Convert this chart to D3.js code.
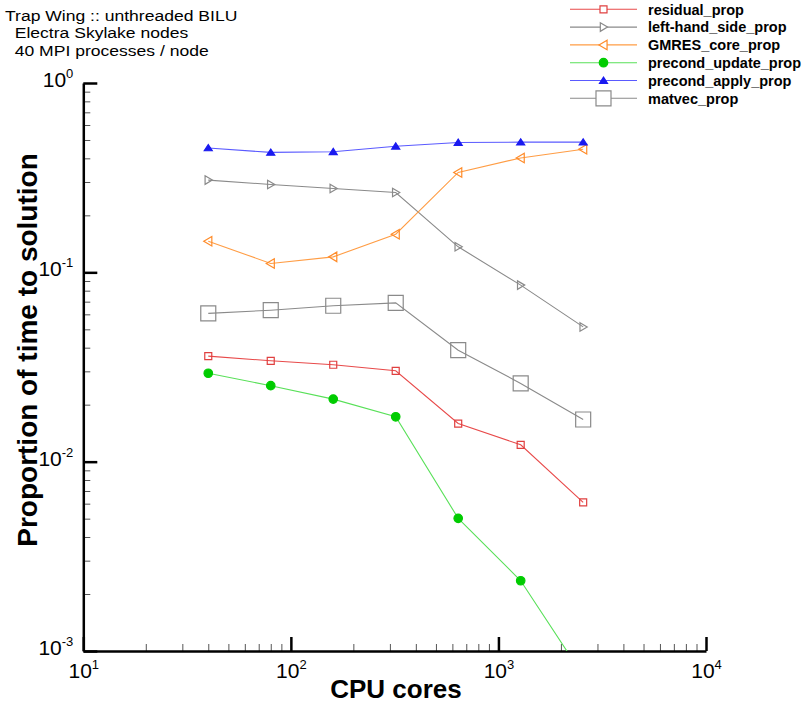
<!DOCTYPE html>
<html>
<head>
<meta charset="utf-8">
<script src="https://cdn.jsdelivr.net/npm/d3@7"></script>
<style>
  html, body { margin: 0; padding: 0; background: #fff; }
  svg { display: block; font-family: "Liberation Sans", Arial, Helvetica, sans-serif; }
</style>
</head>
<body>
<svg id="chart" width="806" height="704"></svg>
<script>
// Core counts on the x axis
const cores = [40, 80, 160, 320, 640, 1280, 2560];

// Fraction of total solve time per component
const residualProp      = [0.0361, 0.0341, 0.0325, 0.0302, 0.0159, 0.01228, 0.0061];
const lhsProp           = [0.307, 0.291, 0.277, 0.264, 0.1364, 0.0856, 0.0515];
const gmresCoreProp     = [0.146, 0.1114, 0.1207, 0.159, 0.337, 0.402, 0.447];
const precondUpdateProp = [0.0293, 0.0252, 0.0214, 0.01726, 0.00502, 0.00235, 0.00074];
const precondApplyProp  = [0.454, 0.43, 0.433, 0.463, 0.485, 0.487, 0.487];
const matvecProp        = [0.0607, 0.0631, 0.0666, 0.069, 0.0388, 0.0259, 0.0167];

const seriesNames = ["residual_prop", "left-hand_side_prop", "GMRES_core_prop",
                     "precond_update_prop", "precond_apply_prop", "matvec_prop"];

// Decade tick exponents
const xExponents = [1, 2, 3, 4];
const yExponents = [0, -1, -2, -3];

const titleLines = ["Trap Wing :: unthreaded BILU", "  Electra Skylake nodes", "  40 MPI processes / node"];
const xTitle = "CPU cores";
const yTitle = "Proportion of time to solution";

const series = [
  { name: seriesNames[0], values: residualProp,      line: "#e84a4a", marker: "square",   mColor: "#e04040", fill: "none",    size: 7 },
  { name: seriesNames[1], values: lhsProp,           line: "#8a8a8a", marker: "triRight", mColor: "#8a8a8a", fill: "none",    size: 8.5 },
  { name: seriesNames[2], values: gmresCoreProp,     line: "#ff9d45", marker: "triLeft",  mColor: "#ff8c2a", fill: "none",    size: 9.5 },
  { name: seriesNames[3], values: precondUpdateProp, line: "#58e058", marker: "circle",   mColor: "#00cc00", fill: "#00cc00", size: 8.5 },
  { name: seriesNames[4], values: precondApplyProp,  line: "#5a5aff", marker: "triUp",    mColor: "#1a1af0", fill: "#1a1af0", size: 8 },
  { name: seriesNames[5], values: matvecProp,        line: "#8a8a8a", marker: "square",   mColor: "#8a8a8a", fill: "none",    size: 15 }
];

const svg = d3.select("#chart");
const plotLeft = 83.3, plotRight = 706, plotTop = 83, plotBottom = 651;

const x = d3.scaleLog().domain([10, 10000]).range([plotLeft, plotRight]);
const y = d3.scaleLog().domain([1e-3, 1]).range([plotBottom, plotTop]);

// Title block: wide-set lettering, one tspan per line
const title = svg.append("text").attr("font-size", 15).attr("fill", "#000")
  .attr("transform", "translate(5,0) scale(1.17,1)")
  .attr("xml:space", "preserve").style("white-space", "pre");
titleLines.forEach((t, i) => {
  title.append("tspan").attr("x", 0).attr("y", 21 + i * 17.4).text(t);
});

// Minor tick values for each decade
const minorX = [], minorY = [];
for (let e = 1; e < 4; e++) for (let m = 2; m <= 9; m++) minorX.push(m * Math.pow(10, e));
for (let e = -3; e < 0; e++) for (let m = 2; m <= 9; m++) minorY.push(m * Math.pow(10, e));

// Minor ticks (drawn first, inward)
svg.append("g").attr("transform", `translate(0,${plotBottom})`)
  .call(d3.axisBottom(x).tickValues(minorX).tickSize(-7).tickSizeOuter(0).tickFormat(""))
  .call(g => g.select(".domain").remove())
  .call(g => g.selectAll(".tick line").attr("stroke", "#555").attr("stroke-width", 1));
svg.append("g").attr("transform", `translate(${plotLeft},0)`)
  .call(d3.axisLeft(y).tickValues(minorY).tickSize(-7).tickSizeOuter(0).tickFormat(""))
  .call(g => g.select(".domain").remove())
  .call(g => g.selectAll(".tick line").attr("stroke", "#555").attr("stroke-width", 1));

// Superscript decade labels
function powerLabel(textSel, exp) {
  textSel.text(null);
  textSel.append("tspan").attr("font-size", 21).text("10");
  textSel.append("tspan").attr("font-size", 13).attr("dy", -9).text(String(exp));
}

// Major x axis
const xAxis = svg.append("g").attr("transform", `translate(0,${plotBottom})`)
  .call(d3.axisBottom(x).tickValues(xExponents.map(e => Math.pow(10, e)))
    .tickSize(-14).tickSizeOuter(0).tickFormat(""));
xAxis.select(".domain").attr("stroke", "#000").attr("stroke-width", 2.5);
xAxis.selectAll(".tick line").attr("stroke", "#000").attr("stroke-width", 2.5);
xAxis.selectAll(".tick").each(function(d) {
  const t = d3.select(this).select("text")
    .attr("y", 27).attr("dy", null).attr("x", 0)
    .attr("text-anchor", "middle").attr("fill", "#000")
    .attr("font-family", "Liberation Sans, Arial, sans-serif");
  powerLabel(t, Math.round(Math.log10(d)));
});

// Major y axis
const yAxis = svg.append("g").attr("transform", `translate(${plotLeft},0)`)
  .call(d3.axisLeft(y).tickValues(yExponents.map(e => Math.pow(10, e)))
    .tickSize(-14).tickSizeOuter(0).tickFormat(""));
yAxis.select(".domain").attr("stroke", "#000").attr("stroke-width", 2.5);
yAxis.selectAll(".tick line").attr("stroke", "#000").attr("stroke-width", 2.5);
yAxis.selectAll(".tick").each(function(d) {
  const t = d3.select(this).select("text")
    .attr("x", -10).attr("dy", "0.36em").attr("y", 0)
    .attr("text-anchor", "end").attr("fill", "#000")
    .attr("font-family", "Liberation Sans, Arial, sans-serif");
  powerLabel(t, Math.round(Math.log10(d)));
});

// Axis titles
svg.append("text").attr("x", 396).attr("y", 698)
  .attr("text-anchor", "middle").attr("font-size", 26).attr("font-weight", "bold")
  .text(xTitle);
svg.append("text").attr("transform", `translate(37,350) rotate(-90)`)
  .attr("text-anchor", "middle").attr("font-size", 28).attr("font-weight", "bold")
  .text(yTitle);

// Plot area clip
svg.append("clipPath").attr("id", "plot-clip")
  .append("rect").attr("x", plotLeft).attr("y", plotTop - 10)
  .attr("width", plotRight - plotLeft + 10).attr("height", plotBottom - plotTop + 10);

// Marker shapes
function markerPath(type, s) {
  const h = s / 2;
  switch (type) {
    case "square":   return `M${-h},${-h}H${h}V${h}H${-h}Z`;
    case "triRight": return `M${-h * 0.75},${-h}L${h * 0.95},0L${-h * 0.75},${h}Z`;
    case "triLeft":  return `M${h * 0.75},${-h}L${-h * 0.95},0L${h * 0.75},${h}Z`;
    case "triUp":    return `M0,${-h * 0.85}L${h},${h * 0.7}L${-h},${h * 0.7}Z`;
    case "circle":   return d3.symbol(d3.symbolCircle, Math.PI * h * h)();
  }
}

const plot = svg.append("g").attr("clip-path", "url(#plot-clip)");
const line = d3.line().x(d => x(d[0])).y(d => y(d[1]));

series.forEach(s => {
  const pts = cores.map((c, i) => [c, s.values[i]]);
  plot.append("path").datum(pts).attr("d", line)
    .attr("fill", "none").attr("stroke", s.line).attr("stroke-width", 1.1);
  plot.selectAll(null).data(pts.filter(p => y(p[1]) <= plotBottom)).enter().append("path")
    .attr("transform", p => `translate(${x(p[0])},${y(p[1])})`)
    .attr("d", markerPath(s.marker, s.size))
    .attr("fill", s.fill).attr("stroke", s.mColor).attr("stroke-width", 1.2);
});

// Legend
const legend = svg.append("g");
series.forEach((s, i) => {
  const ly = 9.3 + i * 17.8;
  legend.append("line").attr("x1", 570).attr("x2", 637).attr("y1", ly).attr("y2", ly)
    .attr("stroke", s.line).attr("stroke-width", 1.1);
  legend.append("path").attr("transform", `translate(603.5,${ly})`)
    .attr("d", markerPath(s.marker, s.size))
    .attr("fill", s.fill === "none" ? "#fff" : s.fill).attr("stroke", s.mColor).attr("stroke-width", 1.2);
  legend.append("text").attr("x", 648).attr("y", ly).attr("dy", "0.36em")
    .attr("font-size", 14.5).attr("font-weight", "bold").text(s.name);
});
</script>
</body>
</html>
